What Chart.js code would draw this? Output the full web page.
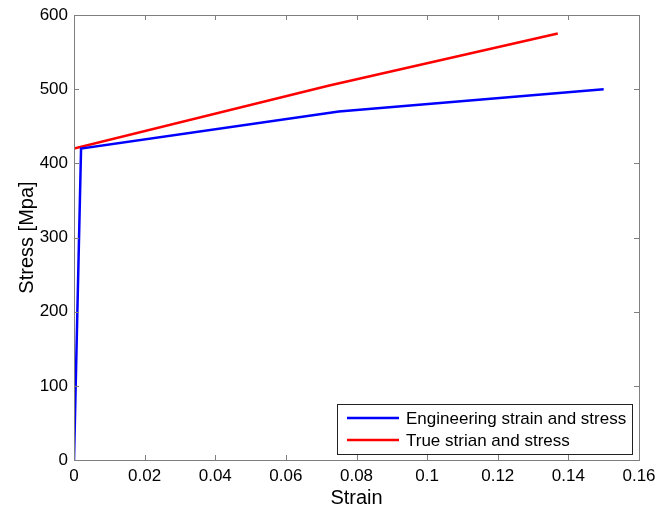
<!DOCTYPE html>
<html>
<head>
<meta charset="utf-8">
<script src="https://cdn.jsdelivr.net/npm/chart.js@4/dist/chart.umd.min.js"></script>
<style>
  html, body { margin: 0; padding: 0; background: #fff; }
  #wrap { width: 657px; height: 510px; }
</style>
</head>
<body>
<div id="wrap"><canvas id="grafico"></canvas></div>
<script>
// dados
const engStrain = [0, 0.002, 0.075, 0.15];
const engStress = [0, 420, 470, 500];
const trueStrain = [0, 0.0723, 0.137];
const trueStress = [420, 505, 575];
const xTicks = [0, 0.02, 0.04, 0.06, 0.08, 0.1, 0.12, 0.14, 0.16];
const yTicks = [0, 100, 200, 300, 400, 500, 600];
const legendas = ['Engineering strain and stress', 'True strian and stress'];

const fonte = '"Liberation Sans", Arial, sans-serif';
const corEixo = '#7f7f7f';

// ticks pra dentro, nos quatro lados, estilo matlab
const caixaMatlab = {
  id: 'caixaMatlab',
  afterDraw(chart) {
    const ctx = chart.ctx;
    const a = chart.chartArea;
    const sx = chart.scales.x;
    const sy = chart.scales.y;
    ctx.save();
    ctx.strokeStyle = corEixo;
    ctx.lineWidth = 1;
    ctx.beginPath();
    xTicks.forEach(v => {
      const px = Math.round(sx.getPixelForValue(v)) + 0.5;
      ctx.moveTo(px, a.bottom); ctx.lineTo(px, a.bottom - 5);
      ctx.moveTo(px, a.top); ctx.lineTo(px, a.top + 5);
    });
    yTicks.forEach(v => {
      const py = Math.round(sy.getPixelForValue(v)) + 0.5;
      ctx.moveTo(a.left, py); ctx.lineTo(a.left + 5, py);
      ctx.moveTo(a.right, py); ctx.lineTo(a.right - 5, py);
    });
    ctx.stroke();
    ctx.strokeRect(Math.round(a.left) + 0.5, Math.round(a.top) + 0.5,
      Math.round(a.right - a.left), Math.round(a.bottom - a.top));

    // legenda dentro da area, canto inferior direito
    const bx = 337, by = 404, bw = 295, bh = 50;
    ctx.fillStyle = '#fff';
    ctx.fillRect(bx, by, bw, bh);
    ctx.strokeStyle = '#222';
    ctx.strokeRect(bx + 0.5, by + 0.5, bw, bh);
    ctx.font = '17px ' + fonte;
    ctx.textBaseline = 'middle';
    ctx.textAlign = 'left';
    chart.data.datasets.forEach((ds, i) => {
      const ly = by + 14 + i * 22;
      ctx.strokeStyle = ds.borderColor;
      ctx.lineWidth = 2.5;
      ctx.beginPath();
      ctx.moveTo(bx + 10, ly);
      ctx.lineTo(bx + 62, ly);
      ctx.stroke();
      ctx.fillStyle = '#000';
      ctx.fillText(ds.label, bx + 69, ly + 1);
    });
    ctx.restore();
  }
};

const ctx = document.getElementById('grafico').getContext('2d');
const grafico = new Chart(ctx, {
  type: 'line',
  data: {
    datasets: [
      {
        label: legendas[0],
        data: engStrain.map((x, i) => ({ x: x, y: engStress[i] })),
        borderColor: '#0000ff',
        borderWidth: 2.5,
        pointRadius: 0,
        fill: false,
        tension: 0
      },
      {
        label: legendas[1],
        data: trueStrain.map((x, i) => ({ x: x, y: trueStress[i] })),
        borderColor: '#ff0000',
        borderWidth: 2.5,
        pointRadius: 0,
        fill: false,
        tension: 0
      }
    ]
  },
  options: {
    responsive: true,
    maintainAspectRatio: false,
    animation: false,
    layout: { padding: { top: 15, right: 18, left: 0, bottom: 0 } },
    scales: {
      x: {
        type: 'linear',
        min: 0,
        max: 0.16,
        afterBuildTicks: s => { s.ticks = xTicks.map(v => ({ value: v })); },
        afterFit: s => { s.height = 50; s.paddingLeft = 0; s.paddingRight = 0; },
        grid: { display: false, drawTicks: false },
        border: { display: false },
        ticks: {
          color: '#000',
          padding: 6,
          maxRotation: 0,
          font: { family: fonte, size: 17 },
          callback: v => String(+v.toFixed(2))
        },
        title: {
          display: true,
          text: 'Strain',
          color: '#000',
          padding: { top: 0, bottom: 0 },
          font: { family: fonte, size: 20 }
        }
      },
      y: {
        type: 'linear',
        min: 0,
        max: 600,
        afterBuildTicks: s => { s.ticks = yTicks.map(v => ({ value: v })); },
        afterFit: s => { s.width = 74; s.paddingTop = 0; s.paddingBottom = 0; },
        grid: { display: false, drawTicks: false },
        border: { display: false },
        ticks: {
          color: '#000',
          padding: 6,
          font: { family: fonte, size: 17 }
        },
        title: {
          display: true,
          text: 'Stress [Mpa]',
          color: '#000',
          padding: { top: 15, bottom: 0 },
          font: { family: fonte, size: 20 }
        }
      }
    },
    plugins: {
      legend: { display: false },
      tooltip: { enabled: false }
    }
  },
  plugins: [caixaMatlab]
});
</script>
</body>
</html>
